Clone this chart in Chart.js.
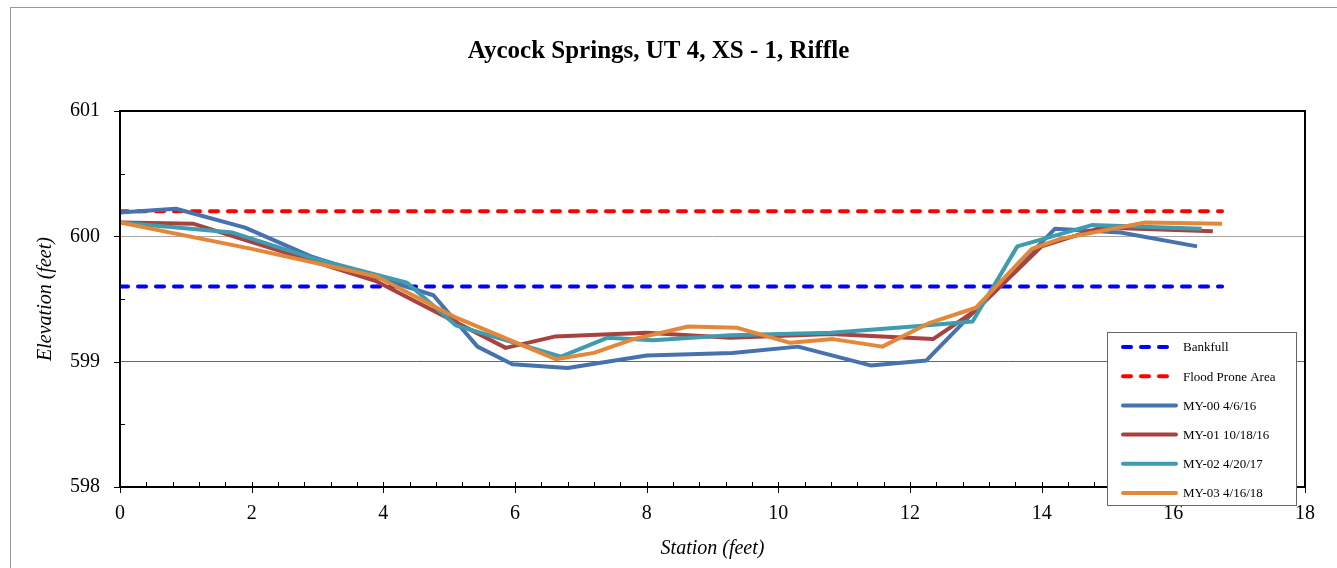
<!DOCTYPE html>
<html>
<head>
<meta charset="utf-8">
<script src="https://cdn.jsdelivr.net/npm/chart.js@4.4.1/dist/chart.umd.min.js"></script>
<style>
  html, body { margin: 0; padding: 0; background: #fff; }
  #frame { position: absolute; left: 10px; top: 7px; width: 1400px; height: 600px; border-left: 1px solid #999; border-top: 1px solid #999; }
  #wrap { position: absolute; left: 0; top: 0; width: 1330px; height: 568px; }
</style>
</head>
<body>
<div id="frame"></div>
<div id="wrap"><canvas id="chart" width="1330" height="568"></canvas></div>
<script>
// reference lines
const bankfullX = [0, 16.74];
const bankfullY = [599.6, 599.6];
const floodX = [0, 16.74];
const floodY = [600.2, 600.2];

// surveys (station, elevation)
const my00X = [0, 0.85, 1.9, 2.9, 4.76, 5.43, 5.96, 6.8, 8.0, 9.3, 10.3, 11.4, 12.25, 14.2, 15.2, 16.36];
const my00Y = [600.19, 600.22, 600.07, 599.84, 599.53, 599.12, 598.98, 598.95, 599.05, 599.07, 599.12, 598.97, 599.01, 600.06, 600.03, 599.92];

const my01X = [0, 1.12, 3.9, 5.86, 6.6, 8.0, 9.27, 10.8, 12.35, 13.0, 14.0, 14.9, 16.6];
const my01Y = [600.11, 600.10, 599.64, 599.11, 599.20, 599.23, 599.19, 599.22, 599.18, 599.41, 599.92, 600.07, 600.04];

const my02X = [0, 1.71, 2.9, 4.36, 5.1, 6.7, 7.4, 8.1, 9.27, 10.8, 12.05, 12.95, 13.63, 14.76, 16.43];
const my02Y = [600.11, 600.03, 599.83, 599.63, 599.29, 599.04, 599.19, 599.17, 599.21, 599.23, 599.28, 599.32, 599.92, 600.09, 600.06];

const my03X = [0, 2.0, 3.9, 5.07, 5.98, 6.62, 7.2, 7.8, 8.63, 9.38, 10.18, 10.83, 11.58, 12.3, 13.0, 13.85, 14.28, 15.57, 16.74];
const my03Y = [600.11, 599.9, 599.68, 599.36, 599.16, 599.02, 599.07, 599.18, 599.28, 599.27, 599.15, 599.18, 599.12, 599.31, 599.43, 599.90, 599.98, 600.11, 600.10];

const seriesNames = ['Bankfull', 'Flood Prone Area', 'MY-00 4/6/16', 'MY-01 10/18/16', 'MY-02 4/20/17', 'MY-03 4/16/18'];
const yTicks = [598, 599, 600, 601];

const serif = "'Liberation Serif', 'Times New Roman', serif";

const pts = (xs, ys) => xs.map((x, i) => ({ x: x, y: ys[i] }));

function lineSet(i, xs, ys, color, dashed) {
  return {
    label: seriesNames[i],
    data: pts(xs, ys),
    borderColor: color,
    backgroundColor: color,
    borderWidth: 4,
    borderDash: dashed ? [8, 10] : [],
    borderCapStyle: dashed ? 'round' : 'butt',
    borderJoinStyle: 'round',
    pointRadius: 0,
    tension: 0,
    fill: false,
    order: 6 - i
  };
}

// plot box + tick marks (inside minor, crossing major)
const framePlugin = {
  id: 'frame',
  afterDatasetsDraw(chart) {
    const { ctx, chartArea: a, scales: { x, y } } = chart;
    ctx.save();
    ctx.strokeStyle = '#000';
    ctx.lineWidth = 2;
    ctx.strokeRect(a.left, a.top, a.right - a.left, a.bottom - a.top);
    ctx.lineWidth = 1;
    ctx.beginPath();
    for (let i = 0; i <= 45; i++) {
      const px = Math.round(x.getPixelForValue(i * 0.4)) + 0.5;
      ctx.moveTo(px, a.bottom - 5);
      ctx.lineTo(px, i % 5 === 0 ? a.bottom + 6 : a.bottom);
    }
    for (let i = 0; i <= 6; i++) {
      const py = Math.round(y.getPixelForValue(598 + i * 0.5)) + 0.5;
      if (i % 2 === 0) {
        ctx.moveTo(a.left - 6, py);
        ctx.lineTo(a.left, py);
      } else {
        ctx.moveTo(a.left, py);
        ctx.lineTo(a.left + 5, py);
      }
    }
    ctx.stroke();
    ctx.restore();
  }
};

// boxed legend sitting over the lower right corner
const legendPlugin = {
  id: 'boxLegend',
  afterDraw(chart) {
    const { ctx } = chart;
    const box = { left: 1107, top: 332, width: 189, height: 173 };
    ctx.save();
    ctx.fillStyle = '#fff';
    ctx.fillRect(box.left, box.top, box.width, box.height);
    ctx.strokeStyle = '#666';
    ctx.lineWidth = 1;
    ctx.strokeRect(box.left + 0.5, box.top + 0.5, box.width, box.height);
    ctx.font = '13px ' + serif;
    ctx.textBaseline = 'middle';
    chart.data.datasets.forEach((ds, i) => {
      const yy = box.top + 15 + i * 29.2;
      ctx.strokeStyle = ds.borderColor;
      ctx.lineWidth = 4;
      ctx.lineCap = 'round';
      ctx.setLineDash(ds.borderDash.length ? [8, 10] : []);
      ctx.beginPath();
      ctx.moveTo(1123, yy);
      ctx.lineTo(1176, yy);
      ctx.stroke();
      ctx.setLineDash([]);
      ctx.fillStyle = '#000';
      ctx.fillText(ds.label, 1183, yy + 1);
    });
    ctx.restore();
  }
};

new Chart(document.getElementById('chart'), {
  type: 'line',
  data: {
    datasets: [
      lineSet(0, bankfullX, bankfullY, '#0000ff', true),
      lineSet(1, floodX, floodY, '#ff0000', true),
      lineSet(2, my00X, my00Y, '#4672ad', false),
      lineSet(3, my01X, my01Y, '#a8423f', false),
      lineSet(4, my02X, my02Y, '#3e9bb0', false),
      lineSet(5, my03X, my03Y, '#e3873a', false)
    ]
  },
  options: {
    responsive: false,
    animation: false,
    layout: { padding: { left: 0, right: 13, top: 0, bottom: 0 } },
    plugins: {
      legend: { display: false },
      tooltip: { enabled: false },
      title: {
        display: true,
        text: 'Aycock Springs, UT 4, XS - 1, Riffle',
        color: '#000',
        font: { family: serif, size: 25, weight: 'bold' },
        padding: { top: 37, bottom: 44 }
      }
    },
    scales: {
      x: {
        type: 'linear',
        min: 0,
        max: 18,
        afterFit(s) { s.height = 81; },
        grid: { display: false, drawTicks: false },
        border: { display: false },
        ticks: { stepSize: 2, padding: 15, color: '#000', font: { family: serif, size: 20 } },
        title: {
          display: true,
          text: 'Station (feet)',
          color: '#000',
          font: { family: serif, size: 20, style: 'italic' },
          padding: { top: 0, bottom: 7 }
        }
      },
      y: {
        type: 'linear',
        min: 598,
        max: 601,
        afterFit(s) { s.width = 120; },
        afterBuildTicks(s) { s.ticks = yTicks.map(v => ({ value: v })); },
        grid: {
          drawTicks: false,
          lineWidth: 1,
          color: c => c.tick && c.tick.value === 600 ? '#a6a6a6' : (c.tick && c.tick.value === 599 ? '#666' : 'rgba(0,0,0,0)')
        },
        border: { display: false },
        ticks: { padding: 20, color: '#000', font: { family: serif, size: 20 } },
        title: {
          display: true,
          text: 'Elevation (feet)',
          color: '#000',
          font: { family: serif, size: 20, style: 'italic' },
          padding: { top: 34, bottom: 0 }
        }
      }
    }
  },
  plugins: [framePlugin, legendPlugin]
});
</script>
</body>
</html>
